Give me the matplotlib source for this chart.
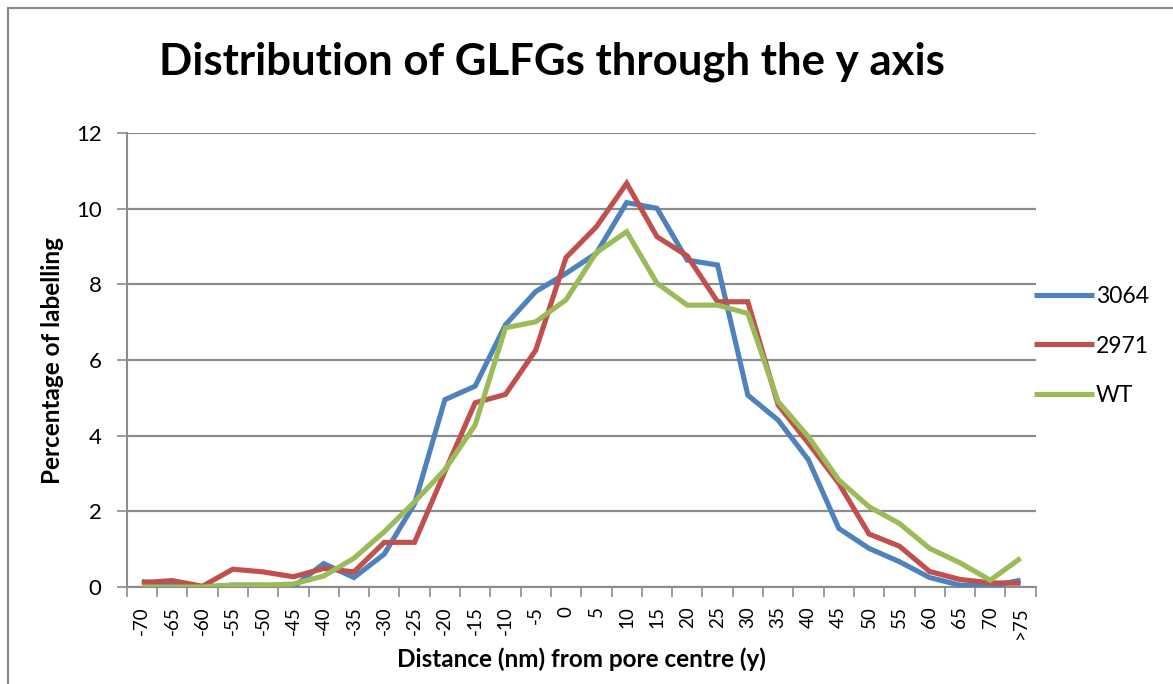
import matplotlib
matplotlib.use("Agg")
import matplotlib.pyplot as plt
import numpy as np
from matplotlib.patches import Rectangle

categories = ["-70", "-65", "-60", "-55", "-50", "-45", "-40", "-35", "-30", "-25",
              "-20", "-15", "-10", "-5", "0", "5", "10", "15", "20", "25",
              "30", "35", "40", "45", "50", "55", "60", "65", "70", ">75"]

s3064 = [0.14, 0.10, 0.00, 0.05, 0.05, 0.00, 0.62, 0.25, 0.87, 2.20,
         4.95, 5.31, 6.93, 7.81, 8.29, 8.82, 10.16, 10.01, 8.64, 8.51,
         5.07, 4.41, 3.36, 1.55, 1.02, 0.67, 0.25, 0.05, 0.02, 0.18]
s2971 = [0.11, 0.17, 0.02, 0.47, 0.40, 0.27, 0.49, 0.40, 1.18, 1.18,
         3.05, 4.87, 5.09, 6.26, 8.71, 9.52, 10.67, 9.26, 8.75, 7.54,
         7.54, 4.81, 3.80, 2.74, 1.40, 1.08, 0.41, 0.20, 0.11, 0.10]
sWT = [0.00, 0.00, 0.00, 0.05, 0.05, 0.08, 0.29, 0.76, 1.46, 2.25,
       3.10, 4.28, 6.85, 7.01, 7.59, 8.84, 9.39, 8.03, 7.45, 7.45,
       7.23, 4.90, 3.97, 2.83, 2.12, 1.68, 1.02, 0.64, 0.18, 0.76]

series_names = ["3064", "2971", "WT"]
series_values = [s3064, s2971, sWT]
colors = ["#4F81BD", "#C0504D", "#9BBB59"]

FONT = ["Lato", "DejaVu Sans"]
plt.rcParams['font.family'] = FONT

W, H = 1173, 684
fig = plt.figure(figsize=(W / 100, H / 100), dpi=100)
fig.patch.set_facecolor("white")

# chart-area border (partially cut off at right/bottom)
fig.add_artist(Rectangle((7.5 / W, -0.1), 1.2, 1 - 7.5 / H + 0.1,
                         transform=fig.transFigure, fill=False,
                         edgecolor="#888888", linewidth=1.5))

left, right, top, bottom = 126.7, 1035.7, 133, 587
ax = fig.add_axes([left / W, 1 - bottom / H, (right - left) / W, (bottom - top) / H])

x = np.arange(len(categories))
for name, vals, c in zip(series_names, series_values, colors):
    ax.plot(x, vals, color=c, lw=3.7, label=name, solid_joinstyle="miter",
            solid_capstyle="butt", zorder=3)

ax.set_xlim(-0.5, len(categories) - 0.5)
ax.set_ylim(0, 12)
ax.set_yticks(np.arange(0, 13, 2))
ax.yaxis.grid(True, color="#8C8C8C", lw=1.6, zorder=0)
ax.set_axisbelow(True)

ax.set_xticks(x)
ax.set_xticklabels(categories, rotation=90, fontsize=13.5)
ax.set_xticks(np.arange(-0.5, len(categories), 1), minor=True)
ax.tick_params(axis="x", which="major", length=0, pad=14)
ax.tick_params(axis="x", which="minor", length=7, width=1.2, color="#8C8C8C", direction="out")
ax.tick_params(axis="y", length=7, width=1.2, color="#8C8C8C", direction="out",
               labelsize=16, pad=11)

for s in ["top", "right"]:
    ax.spines[s].set_visible(False)
for s in ["left", "bottom"]:
    ax.spines[s].set_color("#8C8C8C")
    ax.spines[s].set_linewidth(1.5)

fig.text(552 / W, 1 - 62 / H, "Distribution of GLFGs through the y axis",
         ha="center", va="center", fontsize=31.5, fontweight="bold")
fig.text(53 / W, 1 - 360 / H, "Percentage of labelling", rotation=90,
         ha="center", va="center", fontsize=17.5, fontweight="bold")
fig.text(581 / W, 1 - 659 / H, "Distance (nm) from pore centre (y)",
         ha="center", va="center", fontsize=17.5, fontweight="bold")

leg = fig.legend(loc="center left", bbox_to_anchor=(1025 / W, 1 - 346 / H),
                 frameon=False, fontsize=16.5, handlelength=2.6, handletextpad=0.1,
                 labelspacing=1.25, borderaxespad=0)

fig.savefig("out.png", dpi=100)
